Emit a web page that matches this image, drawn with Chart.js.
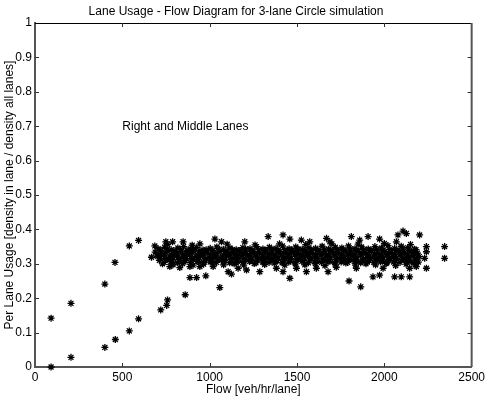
<!DOCTYPE html>
<html>
<head>
<meta charset="utf-8">
<title>Lane Usage - Flow Diagram</title>
<script src="https://cdn.jsdelivr.net/npm/chart.js@4.4.1/dist/chart.umd.min.js"></script>
<style>
  html, body { margin: 0; padding: 0; background: #fff; }
  #wrap { width: 488px; height: 398px; }
</style>
</head>
<body>
<div id="wrap"><canvas id="laneChart" width="488" height="398"></canvas></div>
<script>
'use strict';

// **************************** DATA ****************************

let chartTitle = 'Lane Usage - Flow Diagram for 3-lane Circle simulation';
let xAxisTitle = 'Flow [veh/hr/lane]';
let yAxisTitle = 'Per Lane Usage [density in lane / density all lanes]';
let noteText = 'Right and Middle Lanes';
let notePosition = [500, 0.7]; // [flow, usage]

let xTickValues = [0, 500, 1000, 1500, 2000, 2500];
let xTickLabels = ['0', '500', '1000', '1500', '2000', '2500'];
let yTickValues = [0, 0.1, 0.2, 0.3, 0.4, 0.5, 0.6, 0.7, 0.8, 0.9, 1];
let yTickLabels = ['0', '0.1', '0.2', '0.3', '0.4', '0.5', '0.6', '0.7', '0.8', '0.9', '1'];

// [flow, usage] pairs
let upperBranch = [[92, 0.142], [206, 0.185], [400, 0.241], [458, 0.304], [540, 0.352], [593, 0.368], [667, 0.319], [686, 0.352]];

let lowerBranch = [[92, 0.0], [206, 0.028], [400, 0.057], [460, 0.080], [540, 0.105], [593, 0.140],
  [720, 0.166], [754, 0.179], [759, 0.195], [860, 0.210], [1058, 0.231]];

let bandTop = [[705, 0.344], [742, 0.348], [780, 0.341], [818, 0.346], [851, 0.350], [889, 0.343], [925, 0.347], [962, 0.340],
  [1003, 0.345], [1041, 0.349], [1078, 0.342], [1116, 0.346], [1152, 0.341], [1190, 0.347], [1231, 0.344], [1268, 0.350],
  [1305, 0.343], [1342, 0.348], [1380, 0.345], [1417, 0.352], [1455, 0.344], [1493, 0.349], [1530, 0.342], [1568, 0.347],
  [1606, 0.345], [1644, 0.351], [1681, 0.343], [1719, 0.348], [1757, 0.346], [1795, 0.352], [1832, 0.344], [1870, 0.349],
  [1908, 0.343], [1946, 0.350], [1983, 0.346], [2021, 0.353], [2059, 0.345], [2097, 0.351], [2134, 0.347], [2172, 0.342]];

let bandFillA = [[720, 0.339], [758, 0.342], [795, 0.338], [833, 0.341], [870, 0.339], [907, 0.343], [944, 0.338], [980, 0.341],
  [1018, 0.339], [1056, 0.342], [1093, 0.338], [1131, 0.341], [1168, 0.339], [1206, 0.343], [1243, 0.338], [1281, 0.341],
  [1318, 0.339], [1356, 0.342], [1393, 0.338], [1431, 0.341], [1468, 0.339], [1506, 0.343], [1543, 0.338], [1581, 0.341],
  [1618, 0.339], [1656, 0.342], [1693, 0.338], [1731, 0.341], [1768, 0.339], [1806, 0.343], [1843, 0.338], [1881, 0.341],
  [1918, 0.339], [1956, 0.342], [1993, 0.338], [2031, 0.341], [2068, 0.339], [2106, 0.343], [2143, 0.338], [2181, 0.341]];

let bandUpperMid = [[688, 0.334], [724, 0.331], [761, 0.336], [799, 0.330], [836, 0.335], [872, 0.332], [910, 0.337], [947, 0.329],
  [985, 0.334], [1022, 0.331], [1060, 0.336], [1097, 0.330], [1135, 0.333], [1172, 0.337], [1210, 0.330], [1248, 0.335],
  [1286, 0.332], [1323, 0.337], [1361, 0.331], [1398, 0.336], [1436, 0.333], [1474, 0.338], [1511, 0.330], [1549, 0.335],
  [1587, 0.332], [1625, 0.337], [1662, 0.331], [1700, 0.336], [1738, 0.333], [1776, 0.338], [1813, 0.330], [1851, 0.336],
  [1889, 0.333], [1927, 0.338], [1964, 0.331], [2002, 0.336], [2040, 0.333], [2078, 0.338], [2115, 0.332], [2153, 0.336], [2190, 0.331]];

let bandFillB = [[706, 0.327], [743, 0.329], [780, 0.326], [817, 0.328], [855, 0.327], [892, 0.330], [929, 0.326], [966, 0.328],
  [1004, 0.327], [1041, 0.329], [1079, 0.326], [1116, 0.328], [1154, 0.327], [1191, 0.330], [1229, 0.326], [1266, 0.328],
  [1304, 0.327], [1341, 0.329], [1379, 0.326], [1416, 0.328], [1454, 0.327], [1492, 0.330], [1529, 0.326], [1567, 0.328],
  [1605, 0.327], [1643, 0.329], [1680, 0.326], [1718, 0.328], [1756, 0.327], [1794, 0.330], [1831, 0.326], [1869, 0.328],
  [1907, 0.327], [1945, 0.329], [1982, 0.326], [2020, 0.328], [2058, 0.327], [2096, 0.330], [2133, 0.326], [2171, 0.328]];

let bandMiddle = [[700, 0.322], [736, 0.325], [773, 0.319], [811, 0.324], [848, 0.320], [885, 0.326], [922, 0.321], [960, 0.324],
  [997, 0.318], [1035, 0.323], [1072, 0.320], [1110, 0.325], [1147, 0.319], [1185, 0.324], [1222, 0.321], [1260, 0.326],
  [1298, 0.318], [1335, 0.323], [1373, 0.320], [1410, 0.325], [1448, 0.321], [1486, 0.326], [1523, 0.319], [1561, 0.324],
  [1599, 0.320], [1637, 0.325], [1674, 0.321], [1712, 0.326], [1750, 0.319], [1788, 0.324], [1825, 0.321], [1863, 0.326],
  [1901, 0.318], [1939, 0.323], [1977, 0.320], [2014, 0.325], [2052, 0.321], [2090, 0.326], [2127, 0.319], [2165, 0.324], [2200, 0.321]];

let bandFillC = [[718, 0.316], [755, 0.314], [792, 0.317], [830, 0.315], [867, 0.316], [904, 0.313], [941, 0.317], [979, 0.315],
  [1016, 0.316], [1054, 0.314], [1091, 0.317], [1129, 0.315], [1166, 0.316], [1204, 0.313], [1241, 0.317], [1279, 0.315],
  [1317, 0.316], [1354, 0.314], [1392, 0.317], [1429, 0.315], [1467, 0.316], [1505, 0.313], [1542, 0.317], [1580, 0.315],
  [1618, 0.316], [1656, 0.314], [1693, 0.317], [1731, 0.315], [1769, 0.316], [1807, 0.313], [1844, 0.317], [1882, 0.315],
  [1920, 0.316], [1958, 0.314], [1995, 0.317], [2033, 0.315], [2071, 0.316], [2109, 0.313], [2146, 0.317], [2184, 0.315]];

let bandLowerMid = [[712, 0.310], [749, 0.313], [786, 0.308], [824, 0.312], [861, 0.309], [898, 0.314], [935, 0.307], [973, 0.311],
  [1010, 0.308], [1048, 0.313], [1085, 0.309], [1123, 0.312], [1160, 0.307], [1198, 0.311], [1235, 0.309], [1273, 0.314],
  [1311, 0.307], [1348, 0.312], [1386, 0.309], [1423, 0.313], [1461, 0.308], [1499, 0.312], [1536, 0.309], [1574, 0.314],
  [1612, 0.307], [1650, 0.311], [1687, 0.308], [1725, 0.313], [1763, 0.309], [1801, 0.312], [1838, 0.307], [1876, 0.311],
  [1914, 0.309], [1952, 0.314], [1989, 0.308], [2027, 0.312], [2065, 0.309], [2103, 0.313], [2140, 0.307], [2178, 0.311]];

let bandFillD = [[740, 0.304], [778, 0.306], [815, 0.303], [853, 0.305], [890, 0.304], [928, 0.307], [965, 0.303], [1003, 0.305],
  [1040, 0.304], [1078, 0.306], [1115, 0.303], [1153, 0.305], [1190, 0.304], [1228, 0.307], [1265, 0.303], [1303, 0.305],
  [1340, 0.304], [1378, 0.306], [1415, 0.303], [1453, 0.305], [1490, 0.304], [1528, 0.307], [1565, 0.303], [1603, 0.305],
  [1640, 0.304], [1678, 0.306], [1715, 0.303], [1753, 0.305], [1790, 0.304], [1828, 0.307], [1865, 0.303], [1903, 0.305],
  [1940, 0.304], [1978, 0.306], [2015, 0.303], [2053, 0.305], [2090, 0.304], [2128, 0.307], [2165, 0.303], [2195, 0.305]];

let bandBottom = [[730, 0.300], [790, 0.297], [845, 0.301], [905, 0.296], [965, 0.299], [1020, 0.302], [1080, 0.297], [1140, 0.300],
  [1195, 0.296], [1255, 0.301], [1315, 0.298], [1370, 0.302], [1430, 0.296], [1490, 0.300], [1545, 0.297], [1605, 0.301],
  [1660, 0.295], [1720, 0.299], [1780, 0.302], [1835, 0.296], [1895, 0.300], [1950, 0.297], [2010, 0.301], [2065, 0.295],
  [2125, 0.299], [2180, 0.297]];

let scatterAbove = [[749, 0.364], [788, 0.364], [760, 0.356], [848, 0.364], [900, 0.354], [944, 0.358], [1030, 0.372], [1068, 0.364],
  [1100, 0.357], [1201, 0.364], [1260, 0.355], [1335, 0.379], [1400, 0.358], [1420, 0.384], [1459, 0.372], [1525, 0.369],
  [1550, 0.356], [1573, 0.364], [1669, 0.374], [1688, 0.364], [1700, 0.358], [1811, 0.379], [1850, 0.357], [1859, 0.369],
  [1907, 0.379], [1973, 0.372], [2000, 0.359], [2069, 0.364], [2078, 0.384], [2107, 0.395], [2126, 0.388], [2150, 0.356], [2202, 0.384]];

let scatterBelow = [[772, 0.292], [829, 0.289], [887, 0.260], [925, 0.260], [887, 0.292], [944, 0.292], [978, 0.265], [1020, 0.292],
  [1106, 0.277], [1125, 0.270], [1163, 0.287], [1211, 0.282], [1287, 0.277], [1382, 0.287], [1420, 0.277], [1459, 0.258],
  [1497, 0.287], [1554, 0.277], [1611, 0.287], [1678, 0.277], [1725, 0.290], [1798, 0.250], [1840, 0.287], [1865, 0.233],
  [1935, 0.262], [1973, 0.267], [1993, 0.287], [2059, 0.262], [2097, 0.262], [2145, 0.262], [2145, 0.287], [2183, 0.292]];

let rightEdge = [[2241, 0.350], [2241, 0.335], [2231, 0.316], [2241, 0.287], [2345, 0.350], [2345, 0.316]];


// **************************** HELPERS ****************************

function toPoints(pairs) {
  return pairs.map(p => ({ x: p[0], y: p[1] }));
}

let allPoints = [].concat(
  toPoints(upperBranch), toPoints(lowerBranch),
  toPoints(bandTop), toPoints(bandFillA), toPoints(bandUpperMid), toPoints(bandFillB), toPoints(bandMiddle),
  toPoints(bandFillC), toPoints(bandLowerMid), toPoints(bandFillD), toPoints(bandBottom),
  toPoints(scatterAbove), toPoints(scatterBelow), toPoints(rightEdge)
);

let fontFamily = '"Liberation Sans", Arial, Helvetica, sans-serif';

// draws the top/right box lines, the inward tick marks and the note text
let boxAndNote = {
  id: 'boxAndNote',
  afterDraw(chart) {
    let c = chart.ctx;
    let area = chart.chartArea;
    let xs = chart.scales.x;
    let ys = chart.scales.y;
    c.save();

    c.strokeStyle = '#000';
    c.lineWidth = 1;
    c.beginPath();
    c.moveTo(area.left, area.top + 0.5);
    c.lineTo(area.right, area.top + 0.5);
    c.stroke();

    c.strokeStyle = '#555';
    c.lineWidth = 2;
    c.beginPath();
    c.moveTo(area.right, area.top);
    c.lineTo(area.right, area.bottom);
    c.stroke();

    c.lineWidth = 1;
    c.strokeStyle = '#333';
    c.beginPath();
    for (let i = 1; i < xTickValues.length - 1; i++) {
      let px = Math.round(xs.getPixelForValue(xTickValues[i])) + 0.5;
      c.moveTo(px, area.bottom);
      c.lineTo(px, area.bottom - 4);
      c.moveTo(px, area.top);
      c.lineTo(px, area.top + 4);
    }
    for (let i = 1; i < yTickValues.length - 1; i++) {
      let py = Math.round(ys.getPixelForValue(yTickValues[i])) + 0.5;
      c.moveTo(area.left, py);
      c.lineTo(area.left + 4, py);
      c.moveTo(area.right, py);
      c.lineTo(area.right - 4, py);
    }
    c.stroke();

    c.fillStyle = '#000';
    c.font = '12px ' + fontFamily;
    c.textAlign = 'left';
    c.textBaseline = 'middle';
    c.fillText(noteText, xs.getPixelForValue(notePosition[0]), ys.getPixelForValue(notePosition[1]));
    c.restore();
  }
};


// **************************** CHART ****************************

let ctx = document.getElementById('laneChart');

let laneChartObj = {
  type: 'scatter',
  data: {
    datasets: [{
      data: allPoints,
      pointStyle: 'star',
      radius: 3.5,
      borderColor: '#000',
      backgroundColor: '#000',
      borderWidth: 1.3,
      clip: false
    }]
  },
  options: {
    responsive: false,
    animation: false,
    devicePixelRatio: 1,
    layout: { padding: { top: 0, right: 16, bottom: 0, left: 0 } },
    plugins: {
      legend: { display: false },
      tooltip: { enabled: false },
      title: {
        display: true,
        text: chartTitle,
        color: '#000',
        font: { family: fontFamily, size: 12, weight: 'normal' },
        padding: { top: 4, bottom: 4.6 }
      }
    },
    scales: {
      x: {
        type: 'linear',
        min: 0,
        max: 2500,
        afterBuildTicks: scale => { scale.ticks = xTickValues.map(v => ({ value: v })); },
        afterFit: scale => { scale.height = 31; },
        ticks: {
          color: '#000',
          padding: 3,
          maxRotation: 0,
          font: { family: fontFamily, size: 12 },
          callback: (value, index) => xTickLabels[index]
        },
        grid: { drawOnChartArea: false, drawTicks: false },
        border: { display: true, color: '#555', width: 2 },
        title: {
          display: true,
          text: xAxisTitle,
          color: '#000',
          font: { family: fontFamily, size: 12 },
          padding: { top: 0, bottom: 1 }
        }
      },
      y: {
        type: 'linear',
        min: 0,
        max: 1,
        afterBuildTicks: scale => { scale.ticks = yTickValues.map(v => ({ value: v })); },
        afterFit: scale => { scale.width = 35; },
        ticks: {
          color: '#000',
          padding: 3,
          font: { family: fontFamily, size: 12 },
          callback: (value, index) => yTickLabels[index]
        },
        grid: { drawOnChartArea: false, drawTicks: false },
        border: { display: true, color: '#555', width: 2 },
        title: {
          display: true,
          text: yAxisTitle,
          color: '#000',
          font: { family: fontFamily, size: 12 },
          padding: { top: 2, bottom: 0 }
        }
      }
    }
  },
  plugins: [boxAndNote]
};

new Chart(ctx, laneChartObj);
</script>
</body>
</html>
